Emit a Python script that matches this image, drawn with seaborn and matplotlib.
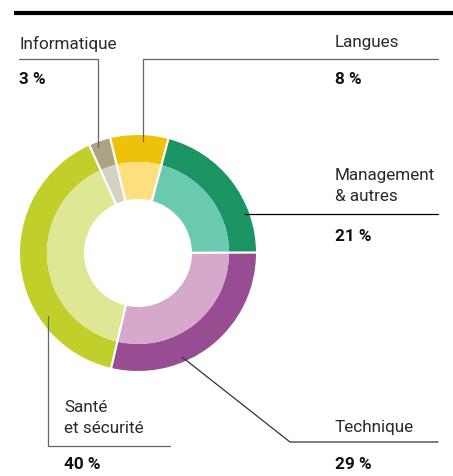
import numpy as np
import pandas as pd
import matplotlib.pyplot as plt
import seaborn as sns

# data (order: clockwise from Langues)
categories = ["Langues", "Management\n& autres", "Technique", "Santé\net sécurité", "Informatique"]
values = [8, 21, 29, 40, 3]
pct_labels = ["8 %", "21 %", "29 %", "40 %", "3 %"]
outer_colors = ["#EEC20A", "#1A9462", "#984D92", "#C1CF2B", "#ABA383"]
inner_colors = ["#FDDF80", "#6ACAB0", "#D6A8CB", "#DEE793", "#D4D2C0"]

df = pd.DataFrame({"cat": categories, "val": values, "pct": pct_labels})

sns.set_theme(style="white")
plt.rcParams['font.family'] = ['Roboto', 'DejaVu Sans']

W, H = 453, 477
fig = plt.figure(figsize=(W / 100, H / 100), dpi=100)
ax = fig.add_axes([0, 0, 1, 1])

def Y(y):
    return H - y

cx, cy, R, RM, R0 = 138, Y(254), 118, 91, 54
start = 103.6
ax.pie(df["val"], radius=R, center=(cx, cy), colors=sns.color_palette(outer_colors),
       startangle=start, counterclock=False, wedgeprops=dict(width=R - RM, linewidth=0), frame=True)
ax.pie(df["val"], radius=RM, center=(cx, cy), colors=sns.color_palette(inner_colors),
       startangle=start, counterclock=False, wedgeprops=dict(width=RM - R0, linewidth=0), frame=True)

# white separators between slices
bounds = start - 360 * np.cumsum(np.r_[0, df["val"].to_numpy()]) / df["val"].sum()
for a in np.deg2rad(bounds[:-1]):
    ax.plot([cx + (R0 - 1) * np.cos(a), cx + (R + 1) * np.cos(a)],
            [cy + (R0 - 1) * np.sin(a), cy + (R + 1) * np.sin(a)],
            color="white", lw=1.6, solid_capstyle="butt")

ax.set_xlim(0, W)
ax.set_ylim(0, H)
ax.set_aspect("equal")
ax.axis("off")

# top rule
ax.plot([14, W], [Y(14), Y(14)], color="black", lw=3, solid_capstyle="butt")

lc = "#666666"
lw = 0.9
ax.plot([19, 98, 98], [Y(60), Y(60), Y(148)], color=lc, lw=lw)
ax.plot([438, 143, 143], [Y(60), Y(60), Y(142)], color=lc, lw=lw)
ax.plot([245, 438], [Y(215), Y(215)], color="black", lw=lw)
ax.plot([182, 290, 438], [Y(358), Y(443), Y(443)], color="#333333", lw=lw)
ax.plot([48, 48, 170], [Y(317), Y(447), Y(447)], color=lc, lw=lw)

tc = "#2a2a2a"
fs = 12.3
text_pos = {
    "Langues": (335, 43, 80),
    "Management\n& autres": (335, 186, 237),
    "Technique": (335, 428, 465),
    "Santé\net sécurité": (64, 418, 465),
    "Informatique": (19, 44, 80),
}
for _, row in df.iterrows():
    x, ty, py = text_pos[row["cat"]]
    ax.text(x, Y(ty), row["cat"], fontsize=fs, color=tc, ha="left", va="center", linespacing=1.45)
    ax.text(x, Y(py), row["pct"], fontsize=fs, color="#111111", ha="left", va="center", fontweight="bold")

fig.savefig("out.png", dpi=100)
